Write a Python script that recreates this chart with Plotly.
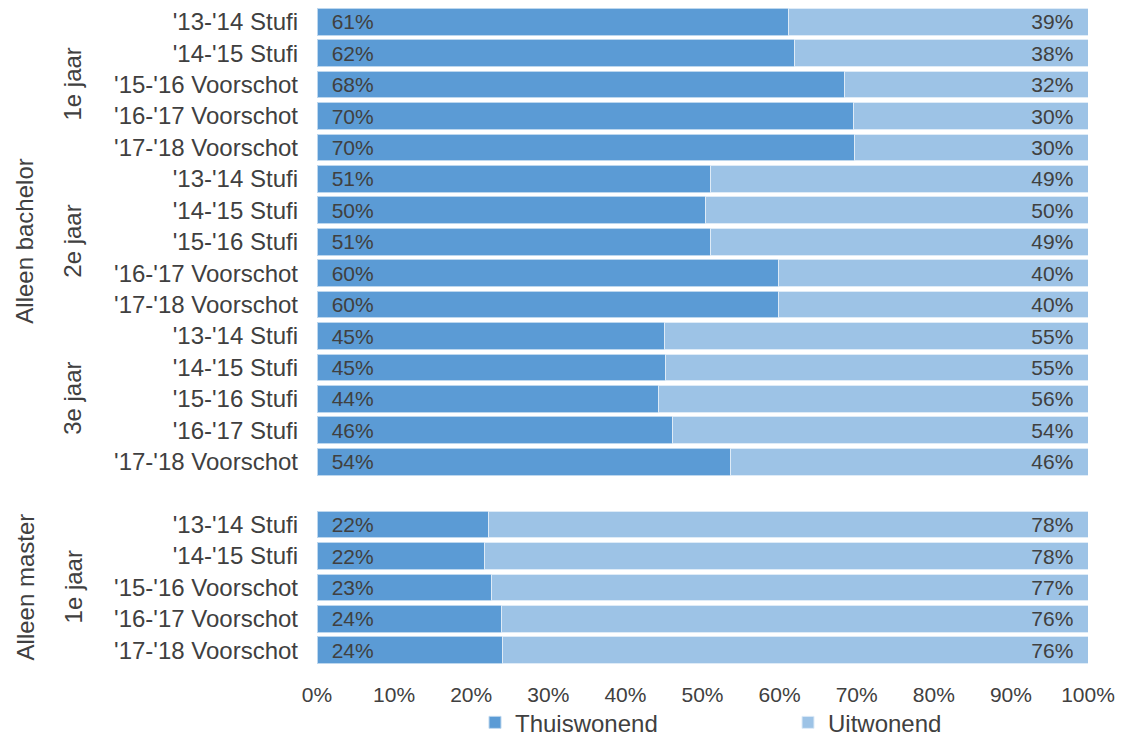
import plotly.graph_objects as go

# ---- data ----
labels_bachelor = ["'13-'14 Stufi", "'14-'15 Stufi", "'15-'16 Voorschot", "'16-'17 Voorschot", "'17-'18 Voorschot",
                   "'13-'14 Stufi", "'14-'15 Stufi", "'15-'16 Stufi", "'16-'17 Voorschot", "'17-'18 Voorschot",
                   "'13-'14 Stufi", "'14-'15 Stufi", "'15-'16 Stufi", "'16-'17 Stufi", "'17-'18 Voorschot"]
labels_master = ["'13-'14 Stufi", "'14-'15 Stufi", "'15-'16 Voorschot", "'16-'17 Voorschot", "'17-'18 Voorschot"]

thuis_bachelor = [61.2, 61.9, 68.4, 69.6, 69.7, 51.0, 50.4, 51.1, 59.8, 59.9, 45.1, 45.2, 44.3, 46.1, 53.6]
uit_bachelor = [38.8, 38.1, 31.6, 30.4, 30.3, 49.0, 49.6, 48.9, 40.2, 40.1, 54.9, 54.8, 55.7, 53.9, 46.4]
thuis_master = [22.2, 21.7, 22.6, 23.9, 24.1]
uit_master = [77.8, 78.3, 77.4, 76.1, 75.9]

thuis_text_bachelor = ["61%", "62%", "68%", "70%", "70%", "51%", "50%", "51%", "60%", "60%", "45%", "45%", "44%", "46%", "54%"]
uit_text_bachelor = ["39%", "38%", "32%", "30%", "30%", "49%", "50%", "49%", "40%", "40%", "55%", "55%", "56%", "54%", "46%"]
thuis_text_master = ["22%", "22%", "23%", "24%", "24%"]
uit_text_master = ["78%", "78%", "77%", "76%", "76%"]

sub_groups = [("1e jaar", 0, 4), ("2e jaar", 5, 9), ("3e jaar", 10, 14), ("1e jaar", 16, 20)]
main_groups = [("Alleen bachelor", 0, 14), ("Alleen master", 16, 20)]
x_ticks = [0, 10, 20, 30, 40, 50, 60, 70, 80, 90, 100]

# ---- build ----
n_b = len(labels_bachelor)
pos = list(range(n_b)) + [n_b + 1 + i for i in range(len(labels_master))]
labels = labels_bachelor + labels_master
thuis = thuis_bachelor + thuis_master
uit = uit_bachelor + uit_master
NB = "\u00a0"
thuis_txt = [NB * 2 + t for t in thuis_text_bachelor + thuis_text_master]
uit_txt = [t + NB * 2 for t in uit_text_bachelor + uit_text_master]

TXT = "#404040"
FONT = "Liberation Sans, Arial, sans-serif"
CAT_SIZE = 24
NUM_SIZE = 21

fig = go.Figure()
fig.add_trace(go.Bar(
    y=pos, x=thuis, orientation="h", name="Thuiswonend",
    marker=dict(color="#5B9BD5", line=dict(color="#BDD7EE", width=1)),
    text=thuis_txt, textposition="inside", insidetextanchor="start", constraintext="none",
    textfont=dict(color=TXT, size=NUM_SIZE, family=FONT), width=0.85,
    hoverinfo="skip",
))
fig.add_trace(go.Bar(
    y=pos, x=uit, orientation="h", name="Uitwonend",
    marker=dict(color="#9DC3E6", line=dict(color="#DEEBF7", width=1)),
    text=uit_txt, textposition="inside", insidetextanchor="end", constraintext="none",
    textfont=dict(color=TXT, size=NUM_SIZE, family=FONT), width=0.85,
    hoverinfo="skip",
))

L, R, W, H, T, B = 317, 38, 1126, 738, 6, 72
pw = W - L - R
ph = H - T - B

annotations = []
for name, a, b in sub_groups:
    annotations.append(dict(text=name, x=(73 - L) / pw, xref="paper", y=(a + b) / 2, yref="y",
                            showarrow=False, textangle=-90, xanchor="center", yanchor="middle",
                            font=dict(color=TXT, size=CAT_SIZE, family=FONT)))
for name, a, b in main_groups:
    annotations.append(dict(text=name, x=(25 - L) / pw, xref="paper", y=(a + b) / 2, yref="y",
                            showarrow=False, textangle=-90, xanchor="center", yanchor="middle",
                            font=dict(color=TXT, size=CAT_SIZE, family=FONT)))

fig.update_layout(
    barmode="stack",
    width=W, height=H,
    margin=dict(l=L, r=R, t=T, b=B, autoexpand=False),
    paper_bgcolor="white", plot_bgcolor="white",
    font=dict(family=FONT, color=TXT, size=CAT_SIZE),
    xaxis=dict(range=[0, 100], tickvals=x_ticks, ticktext=[f"{v}%" for v in x_ticks],
               showgrid=False, zeroline=False, showline=False, ticks="",
               tickfont=dict(size=NUM_SIZE, color=TXT), ticklabelstandoff=14, fixedrange=True),
    yaxis=dict(tickvals=pos, ticktext=labels, autorange=False, range=[max(pos) + 0.5, -0.5],
               showgrid=False, zeroline=False, showline=False, ticks="",
               tickfont=dict(size=CAT_SIZE, color=TXT), ticklabelstandoff=18, fixedrange=True),
    legend=dict(orientation="h", x=(475 - L) / pw, xanchor="left", y=-0.086, yanchor="middle",
                traceorder="normal", bgcolor="rgba(0,0,0,0)",
                font=dict(size=CAT_SIZE, color=TXT), entrywidth=268, entrywidthmode="pixels",
                itemclick=False, itemdoubleclick=False),
    annotations=annotations,
    showlegend=True,
)

fig.write_html("out.html", config={"displayModeBar": False},
               post_script="document.body.style.margin='0px';")
